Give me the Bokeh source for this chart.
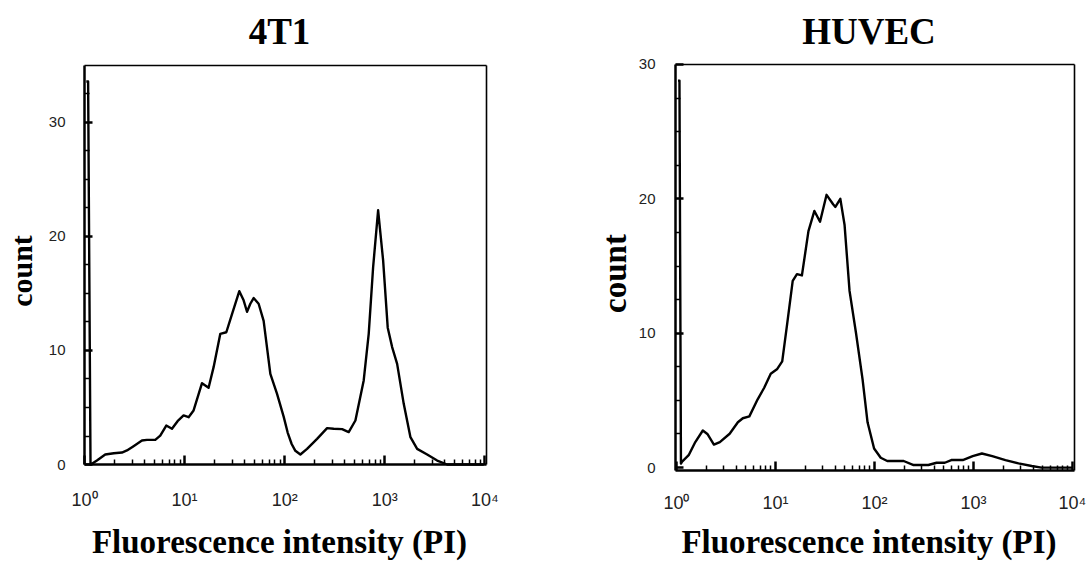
import numpy as np
from bokeh.plotting import figure
from bokeh.layouts import row, column
from bokeh.models import Range1d, FixedTicker, LinearAxis, LogAxis
from bokeh.embed import file_html
from bokeh.resources import INLINE

titles = ["4T1", "HUVEC"]
x_label = "Fluorescence intensity (PI)"
y_label = "count"
x_ticks = [1, 10, 100, 1000, 10000]
x_tick_labels = ["10\u2070", "10\u00b9", "10\u00b2", "10\u00b3", "10\u2074"]
y_ticks = [0, 10, 20, 30]

# 4T1 histogram: log10 of PI intensity, and event count
log_int_4t1 = [0.018, 0.036, 0.06, 0.074, 0.124, 0.207, 0.293, 0.374, 0.424, 0.49,
               0.574, 0.624, 0.707, 0.757, 0.817, 0.874, 0.93, 0.99, 1.04, 1.09,
               1.174, 1.24, 1.29, 1.357, 1.417, 1.474, 1.547, 1.59, 1.624, 1.657,
               1.69, 1.74, 1.79, 1.857, 1.924, 1.99, 2.03, 2.07, 2.107, 2.157,
               2.224, 2.324, 2.424, 2.49, 2.574, 2.64, 2.707, 2.79, 2.84, 2.884,
               2.934, 2.984, 3.03, 3.074, 3.124, 3.19, 3.257, 3.324, 3.424, 3.524,
               3.624, 3.99]
count_4t1 = [33.6, 33.6, 0.0, 0.06, 0.35, 0.88, 0.99, 1.05, 1.23, 1.61,
             2.1, 2.16, 2.16, 2.54, 3.42, 3.13, 3.8, 4.3, 4.15, 4.74,
             7.13, 6.73, 8.54, 11.46, 11.6, 13.2, 15.2, 14.4, 13.4, 14.1,
             14.6, 14.1, 12.6, 7.95, 6.2, 4.2, 2.8, 1.8, 1.2, 0.88,
             1.37, 2.25, 3.19, 3.13, 3.1, 2.84, 3.86, 7.37, 11.46, 17.3,
             22.3, 17.9, 12.0, 10.3, 8.83, 5.32, 2.4, 1.37, 0.88, 0.35,
             0.0, 0.0]

# HUVEC histogram
log_int_huvec = [0.015, 0.03, 0.045, 0.057, 0.123, 0.19, 0.266, 0.312, 0.378, 0.438,
                 0.537, 0.62, 0.67, 0.736, 0.82, 0.886, 0.952, 1.018, 1.068, 1.118,
                 1.174, 1.217, 1.267, 1.333, 1.393, 1.45, 1.516, 1.582, 1.605, 1.655,
                 1.698, 1.748, 1.814, 1.88, 1.93, 1.996, 2.063, 2.129, 2.295, 2.395,
                 2.544, 2.627, 2.71, 2.776, 2.892, 2.992, 3.085, 3.19, 3.323, 3.455,
                 3.588, 3.688, 4.0]
count_huvec = [28.8, 28.8, 0.3, 0.44, 0.92, 1.9, 2.76, 2.5, 1.71, 1.9,
               2.52, 3.37, 3.67, 3.81, 5.08, 5.94, 6.99, 7.34, 7.9, 10.7,
               13.9, 14.4, 14.3, 17.6, 19.1, 18.3, 20.3, 19.6, 19.4, 20.0,
               18.05, 13.15, 9.98, 6.55, 3.37, 1.42, 0.73, 0.49, 0.49, 0.19,
               0.19, 0.36, 0.36, 0.56, 0.56, 0.85, 1.05, 0.85, 0.56, 0.31,
               0.12, 0.0, 0.0]

x_minor = [m * 10 ** k for k in range(4) for m in range(2, 10)]


def make_plot(title, logx, counts, cfg):
    p = figure(width=cfg["width"], height=562, x_axis_type="log",
               x_range=Range1d(*cfg["xr"]), y_range=Range1d(*cfg["yr"]),
               output_backend="svg", toolbar_location=None,
               min_border_left=cfg["bl"], min_border_right=cfg["br"],
               min_border_top=cfg["bt"], min_border_bottom=cfg["bb"],
               title=title)
    p.border_fill_color = None
    p.background_fill_color = None
    p.outline_line_color = None
    p.grid.visible = False

    p.title.text_font = "Liberation Serif"
    p.title.text_font_style = "bold"
    p.title.text_font_size = "37px"
    p.title.align = "center"
    p.title.vertical_align = "top"
    p.title.standoff = cfg["tso"]
    p.title.text_color = "black"

    p.line(10 ** np.array(logx), counts, line_color="black", line_width=2.4,
           line_join="round")

    x0, x1, y0, y1 = cfg["vis"]

    # label-carrying axes (their own lines are hidden)
    xa = p.xaxis[0]
    ya = p.yaxis[0]
    xa.ticker = FixedTicker(ticks=x_ticks)
    xa.major_label_overrides = dict(zip(x_ticks, x_tick_labels))
    ya.ticker = FixedTicker(ticks=y_ticks)
    for a in (xa, ya):
        a.axis_line_color = None
        a.major_tick_line_color = None
        a.minor_tick_line_color = None
        a.major_tick_in = 0
        a.major_tick_out = 0
        a.minor_tick_in = 0
        a.minor_tick_out = 0
    xa.major_label_text_font = "Liberation Sans"
    xa.major_label_text_font_size = "18px"
    xa.major_label_text_color = "#222222"
    xa.major_label_standoff = cfg["xls"]
    xa.axis_label = x_label
    xa.axis_label_text_font = "Liberation Serif"
    xa.axis_label_text_font_style = "bold"
    xa.axis_label_text_font_size = "33px"
    xa.axis_label_text_color = "black"
    xa.axis_label_standoff = cfg["xas"]

    ya.major_label_text_font = "Liberation Sans"
    ya.major_label_text_font_size = "15px"
    ya.major_label_text_color = "#222222"
    ya.major_label_standoff = cfg["yls"]
    ya.axis_label = y_label
    ya.axis_label_text_font = "Liberation Serif"
    ya.axis_label_text_font_style = "bold"
    ya.axis_label_text_font_size = cfg["ylab"]
    ya.axis_label_text_color = "black"
    ya.axis_label_standoff = cfg["yas"]

    # frame lines (with tick marks on the left and bottom), drawn by axes at fixed locations
    def frame_axis(cls, loc, bounds, width, side, ticker, tin, mtin):
        ax = cls(fixed_location=loc, bounds=bounds, ticker=ticker,
                 axis_line_color="black", axis_line_width=width,
                 major_tick_line_color="black", minor_tick_line_color="black",
                 major_tick_line_width=2.5, minor_tick_line_width=1.5,
                 major_tick_in=tin, minor_tick_in=mtin, major_tick_out=0, minor_tick_out=0,
                 major_label_text_color=None)
        p.add_layout(ax, side)

    frame_axis(LogAxis, y0, (x0, x1), 2.5, "below",
               FixedTicker(ticks=x_ticks, minor_ticks=x_minor), 9, 5)
    frame_axis(LinearAxis, x0, (y0, y1), 2.5, "left",
               FixedTicker(ticks=y_ticks, minor_ticks=cfg["ymin"]), 8, 5)
    frame_axis(LogAxis, y1, (x0, x1), 1.6, "above", FixedTicker(ticks=[]), 0, 0)
    frame_axis(LinearAxis, x1, (y0, y1), 1.6, "right", FixedTicker(ticks=[]), 0, 0)
    return p


cfg_4t1 = dict(width=560, bl=70, br=72, bt=63, bb=84,
               xr=(10 ** -0.14, 10 ** 4.037), yr=(-1.228, 35.175),
               vis=(1.0, 10 ** 4.017, 0.0, 35.0),
               ymin=[2.5, 5, 7.5, 12.5, 15, 17.5, 22.5, 25, 27.5, 32.5],
               xls=11, xas=11, yls=5, yas=8, ylab="30px", tso=19)
cfg_huvec = dict(width=526, bl=101, br=10, bt=62, bb=76,
                 xr=(10 ** -0.1514, 10 ** 4.0406), yr=(-1.259, 30.148),
                 vis=(10 ** -0.01, 10 ** 4.02, -0.22, 30.0),
                 ymin=[2.5, 5, 7.5, 12.5, 15, 17.5, 22.5, 25, 27.5],
                 xls=8, xas=8, yls=6, yas=3, ylab="33px", tso=18)

p1 = make_plot(titles[0], log_int_4t1, count_4t1, cfg_4t1)
p2 = make_plot(titles[1], log_int_huvec, count_huvec, cfg_huvec)

layout = row(column(p1), column(p2))
open("out.html", "w").write(file_html(layout, INLINE))
